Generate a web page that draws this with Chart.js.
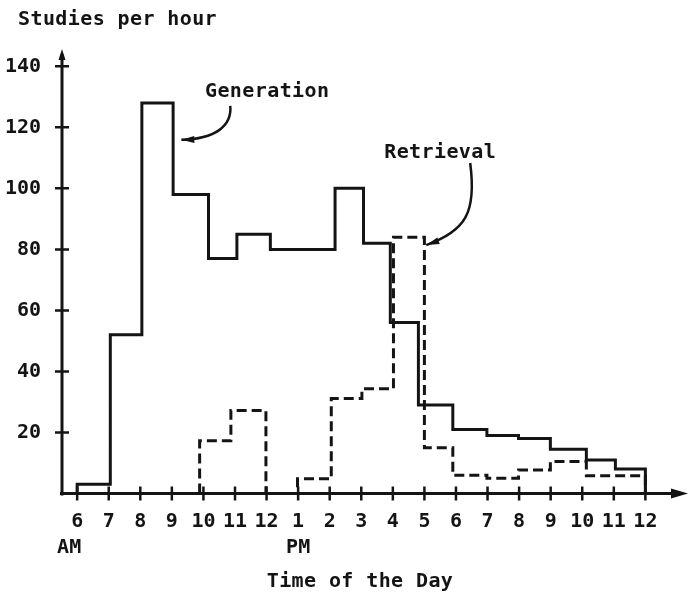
<!DOCTYPE html>
<html>
<head>
<meta charset="utf-8">
<script src="https://cdn.jsdelivr.net/npm/chart.js@4.4.1/dist/chart.umd.min.js"></script>
<style>
  html, body { margin: 0; padding: 0; background: #fff; }
  #wrap { width: 690px; height: 595px; }
</style>
</head>
<body>
<div id="wrap"><canvas id="chart" width="690" height="595"></canvas></div>
<script>
// hours of the day, 6 = 6 AM ... 24 = midnight
const hourTicks = [6, 7, 8, 9, 10, 11, 12, 13, 14, 15, 16, 17, 18, 19, 20, 21, 22, 23, 24];
const hourLabels = ['6', '7', '8', '9', '10', '11', '12', '1', '2', '3', '4', '5', '6', '7', '8', '9', '10', '11', '12'];
const hourSubLabels = ['AM', '', '', '', '', '', '', 'PM', '', '', '', '', '', '', '', '', '', '', ''];
const yTicks = [20, 40, 60, 80, 100, 120, 140];

// Generation: bin edges (hour) and studies per hour in each bin
const genEdges = [6.0, 7.05, 8.05, 9.04, 10.16, 11.06, 12.12, 14.17, 15.07, 15.92, 16.81, 17.9, 18.98, 19.98, 20.99, 22.13, 23.05, 24.0];
const genLevels = [3, 52, 128, 98, 77, 85, 80, 100, 82, 56, 29, 21, 19, 18, 14.5, 11, 8];

// Retrieval
const retEdges = [9.88, 10.87, 11.98, 12.98, 14.05, 15.02, 16.02, 17.0, 17.9, 18.98, 19.98, 20.99, 22.13, 24.0];
const retLevels = [17.3, 27.2, 0, 4.8, 31.1, 34.3, 84, 15, 6, 5, 7.7, 10.5, 5.8];

const ink = '#141414';
const monoFont = '"DejaVu Sans Mono", "Liberation Mono", monospace';

// turn edges + levels into points for a 'before' stepped line
function stepPoints(edges, levels) {
    const pts = [{ x: edges[0], y: 0 }];
    levels.forEach((v, i) => pts.push({ x: edges[i], y: v }));
    pts.push({ x: edges[edges.length - 1], y: 0 });
    return pts;
}

// annotation anchors, in data units (hour, studies)
const genNote = { text: 'Generation', at: [12.02, 131.6], curve: [[10.85, 127], [10.91, 120.4], [10.37, 116.2], [9.30, 115.9]] };
const retNote = { text: 'Retrieval', at: [17.5, 111.6], curve: [[18.45, 108.3], [18.66, 92], [18.3, 86], [17.06, 81.4]] };

const decorPlugin = {
    id: 'decor',
    afterDatasetsDraw(chart) {
        const { ctx, chartArea: a, scales: { x, y } } = chart;
        ctx.save();
        ctx.strokeStyle = ink;
        ctx.fillStyle = ink;
        ctx.lineCap = 'butt';

        // axes
        ctx.lineWidth = 3;
        ctx.beginPath();
        ctx.moveTo(a.left, a.bottom + 2);
        ctx.lineTo(a.left, a.top + 6);
        ctx.moveTo(a.left - 2, a.bottom);
        ctx.lineTo(a.right - 8, a.bottom);
        ctx.stroke();

        // arrow heads
        ctx.beginPath();
        ctx.moveTo(a.left, a.top + 1);
        ctx.lineTo(a.left + 3.5, a.top + 12);
        ctx.lineTo(a.left - 3.5, a.top + 12);
        ctx.closePath();
        ctx.fill();
        ctx.beginPath();
        ctx.moveTo(a.right, a.bottom);
        ctx.lineTo(a.right - 17, a.bottom - 5);
        ctx.lineTo(a.right - 17, a.bottom + 5);
        ctx.closePath();
        ctx.fill();

        // tick marks crossing the axes
        ctx.lineWidth = 2.5;
        ctx.beginPath();
        yTicks.forEach(v => {
            const py = y.getPixelForValue(v);
            ctx.moveTo(a.left - 7, py);
            ctx.lineTo(a.left + 7, py);
        });
        hourTicks.forEach(h => {
            const px = x.getPixelForValue(h);
            ctx.moveTo(px, a.bottom - 7);
            ctx.lineTo(px, a.bottom + 7);
        });
        ctx.stroke();

        // sub labels AM / PM
        ctx.font = 'bold 20px ' + monoFont;
        ctx.textAlign = 'center';
        ctx.textBaseline = 'middle';
        hourSubLabels.forEach((s, i) => {
            if (s) ctx.fillText(s, x.getPixelForValue(hourTicks[i]) - (i === 0 ? 8 : 0), 548);
        });

        // titles
        ctx.letterSpacing = '0.4px';
        ctx.textAlign = 'left';
        ctx.fillText('Studies per hour', 18, 20);
        ctx.textAlign = 'center';
        ctx.fillText('Time of the Day', 360, 582);

        // callouts
        [genNote, retNote].forEach(n => {
            ctx.fillText(n.text, x.getPixelForValue(n.at[0]), y.getPixelForValue(n.at[1]));
            const p = n.curve.map(c => [x.getPixelForValue(c[0]), y.getPixelForValue(c[1])]);
            ctx.lineWidth = 2.5;
            ctx.beginPath();
            ctx.moveTo(p[0][0], p[0][1]);
            ctx.bezierCurveTo(p[1][0], p[1][1], p[2][0], p[2][1], p[3][0], p[3][1]);
            ctx.stroke();
            const ang = Math.atan2(p[3][1] - p[2][1], p[3][0] - p[2][0]);
            ctx.save();
            ctx.translate(p[3][0], p[3][1]);
            ctx.rotate(ang);
            ctx.beginPath();
            ctx.moveTo(0, 0);
            ctx.lineTo(-13, -3.5);
            ctx.lineTo(-13, 3.5);
            ctx.closePath();
            ctx.fill();
            ctx.restore();
        });
        ctx.restore();
    }
};

new Chart(document.getElementById('chart'), {
    type: 'line',
    data: {
        datasets: [{
            label: 'Generation',
            data: stepPoints(genEdges, genLevels),
            borderColor: ink,
            borderWidth: 3,
            stepped: 'before',
            pointRadius: 0,
            fill: false,
        }, {
            label: 'Retrieval',
            data: stepPoints(retEdges, retLevels),
            borderColor: ink,
            borderWidth: 3,
            borderDash: [10, 5],
            stepped: 'before',
            pointRadius: 0,
            fill: false,
        }]
    },
    options: {
        responsive: false,
        animation: false,
        events: [],
        layout: { padding: { top: 48, right: 2, left: 0, bottom: 0 } },
        plugins: {
            legend: { display: false },
            tooltip: { enabled: false },
        },
        scales: {
            x: {
                type: 'linear',
                min: 5.52,
                max: 25.35,
                border: { display: false },
                grid: { display: false, drawTicks: false },
                afterBuildTicks: s => { s.ticks = hourTicks.map(v => ({ value: v })); },
                afterFit: s => { s.height = 101.5; },
                ticks: {
                    autoSkip: false,
                    maxRotation: 0,
                    padding: 16,
                    color: ink,
                    font: { family: monoFont, size: 20, weight: 'bold' },
                    callback: (v, i) => hourLabels[i],
                }
            },
            y: {
                min: 0,
                max: 146,
                border: { display: false },
                grid: { display: false, drawTicks: false },
                afterBuildTicks: s => { s.ticks = yTicks.map(v => ({ value: v })); },
                afterFit: s => { s.width = 62; },
                ticks: {
                    padding: 21,
                    color: ink,
                    font: { family: monoFont, size: 20, weight: 'bold' },
                }
            }
        }
    },
    plugins: [decorPlugin]
});
</script>
</body>
</html>
